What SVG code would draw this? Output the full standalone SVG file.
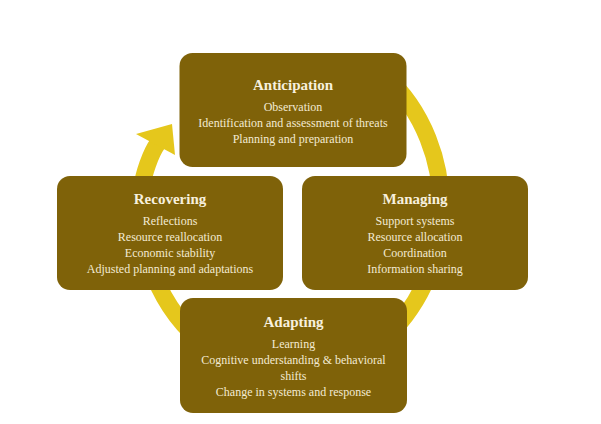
<svg xmlns="http://www.w3.org/2000/svg" width="601" height="424" viewBox="0 0 601 424">
  <style>
    .box { fill: #7F6209; }
    .title { font-family: "Liberation Serif", "Times New Roman", serif; font-size: 15px; font-weight: bold; fill: #F7F0DE; text-anchor: middle; }
    .item { font-family: "Liberation Serif", "Times New Roman", serif; font-size: 12px; fill: #F3EAD3; text-anchor: middle; }
    .ring { fill: none; stroke: #E5C71C; stroke-width: 17; }
    .head { fill: #E5C71C; }
  </style>
  <rect width="601" height="424" fill="#FFFFFF"/>
  <g id="connectors">
    <path class="ring" d="M 383.8 75 A 150 168 0 1 1 142.3 185 C 143.6 175 150 154 158 143"/>
    <polygon class="head" points="136,134 172,124 175,155"/>
  </g>
  <g id="anticipation">
    <rect class="box" x="179.5" y="53" width="227" height="114" rx="13"/>
    <text class="title" x="293" y="90">Anticipation</text>
    <text class="item" x="293" y="111">Observation</text>
    <text class="item" x="293" y="127">Identification and assessment of threats</text>
    <text class="item" x="293" y="143">Planning and preparation</text>
  </g>
  <g id="recovering">
    <rect class="box" x="57" y="176" width="226" height="114" rx="13"/>
    <text class="title" x="170" y="203.5">Recovering</text>
    <text class="item" x="170" y="225">Reflections</text>
    <text class="item" x="170" y="241">Resource reallocation</text>
    <text class="item" x="170" y="257">Economic stability</text>
    <text class="item" x="170" y="273">Adjusted planning and adaptations</text>
  </g>
  <g id="managing">
    <rect class="box" x="302" y="176" width="226" height="114" rx="13"/>
    <text class="title" x="415" y="203.5">Managing</text>
    <text class="item" x="415" y="225">Support systems</text>
    <text class="item" x="415" y="241">Resource allocation</text>
    <text class="item" x="415" y="257">Coordination</text>
    <text class="item" x="415" y="273">Information sharing</text>
  </g>
  <g id="adapting">
    <rect class="box" x="180" y="298" width="227" height="115" rx="13"/>
    <text class="title" x="293.5" y="327">Adapting</text>
    <text class="item" x="293.5" y="348">Learning</text>
    <text class="item" x="293.5" y="364">Cognitive understanding &amp; behavioral</text>
    <text class="item" x="293.5" y="380">shifts</text>
    <text class="item" x="293.5" y="396">Change in systems and response</text>
  </g>
</svg>
